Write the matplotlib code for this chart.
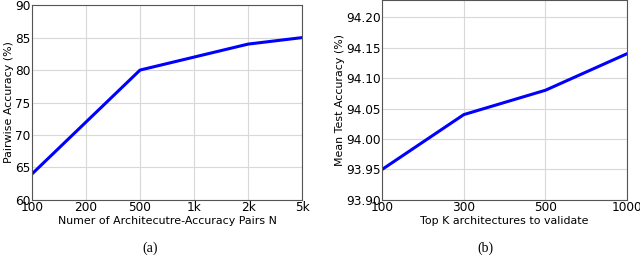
import matplotlib
matplotlib.use("Agg")
import matplotlib.pyplot as plt

left_labels = ["100", "200", "500", "1k", "2k", "5k"]
left_values = [64, 72, 80, 82, 84, 85]
right_labels = ["100", "300", "500", "1000"]
right_values = [93.95, 94.04, 94.08, 94.14]

fig = plt.figure(figsize=(6.4, 2.57), dpi=100)
ax1 = fig.add_axes([0.05, 0.222, 0.422, 0.758])
ax2 = fig.add_axes([0.597, 0.222, 0.383, 0.778])

tick_fs = 8.7
label_fs = 7.9

ax1.plot(range(len(left_labels)), left_values, color="#0000ff", lw=2.2)
ax1.set_xticks(range(len(left_labels)))
ax1.set_xticklabels(left_labels)
ax1.set_xlim(0, len(left_labels) - 1)
ax1.set_ylim(60, 90)
ax1.set_yticks(range(60, 91, 5))
ax1.set_xlabel("Numer of Architecutre-Accuracy Pairs N", fontsize=label_fs, labelpad=1.5)
ax1.set_ylabel("Pairwise Accuracy (%)", fontsize=label_fs, labelpad=1)

yt = [93.90, 93.95, 94.00, 94.05, 94.10, 94.15, 94.20]
ax2.plot(range(len(right_labels)), right_values, color="#0000ff", lw=2.2)
ax2.set_xticks(range(len(right_labels)))
ax2.set_xticklabels(right_labels)
ax2.set_xlim(0, len(right_labels) - 1)
ax2.set_ylim(93.9, 94.228)
ax2.set_yticks(yt)
ax2.set_yticklabels(["%.2f" % v for v in yt])
ax2.set_xlabel("Top K architectures to validate", fontsize=label_fs, labelpad=1.5)
ax2.set_ylabel("Mean Test Accuracy (%)", fontsize=label_fs, labelpad=1)

for ax in (ax1, ax2):
    ax.grid(True, color="#d8d8d8", lw=0.8)
    ax.tick_params(labelsize=tick_fs, length=0, pad=1)
    for s in ax.spines.values():
        s.set_color("#555555")
        s.set_linewidth(0.8)

fig.text(0.234, 0.02, "(a)", ha="center", fontsize=10, family="Liberation Serif")
fig.text(0.758, 0.02, "(b)", ha="center", fontsize=10, family="Liberation Serif")

fig.savefig("out.png", dpi=100)
